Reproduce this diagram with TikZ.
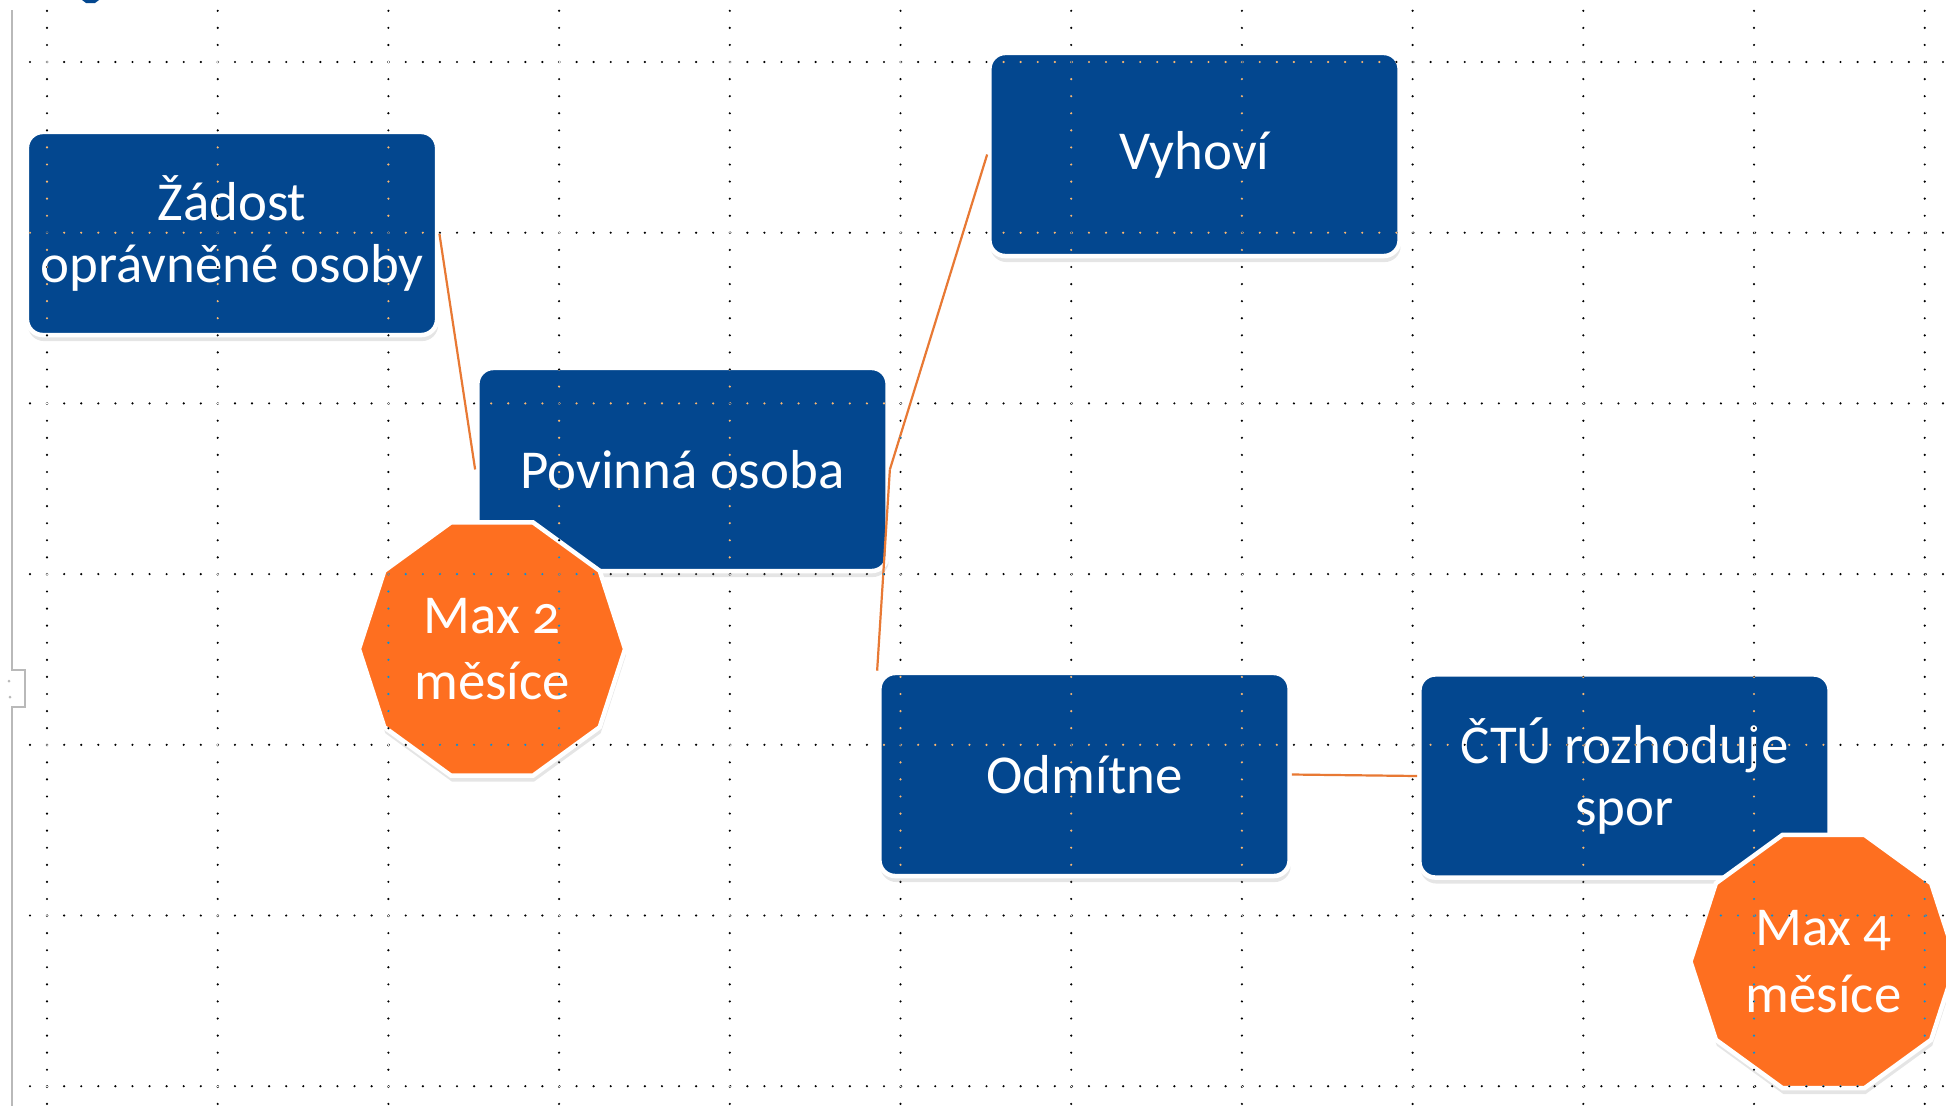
\documentclass[tikz,border=0pt]{standalone}
\usepackage{fontspec}
\setmainfont{Carlito}[Numbers=OldStyle]
\usetikzlibrary{shapes.geometric,shadows}
\definecolor{modra}{RGB}{3,71,143}
\definecolor{oranz}{RGB}{254,111,32}
\definecolor{spojka}{RGB}{232,121,52}
\tikzset{
  blok/.style={rectangle,rounded corners=0.16cm,fill=modra,draw=white,line width=0.045cm,
    minimum width=4.1cm,minimum height=2.03cm,text=white,align=center,
    font=\fontsize{15.6}{17.8}\selectfont,
    drop shadow={opacity=0.2,shadow xshift=0.01cm,shadow yshift=-0.06cm}},
  lhuta/.style={regular polygon,regular polygon sides=10,minimum size=2.66cm,inner sep=0pt,
    fill=oranz,draw=white,line width=0.045cm,text=white,align=center,
    font=\fontsize{15.6}{18.9}\selectfont,
    drop shadow={opacity=0.2,shadow xshift=0.01cm,shadow yshift=-0.06cm}},
  spoj/.style={draw=spojka,line width=0.022cm},
  mrizka/.style={white,blend mode=difference,line width=0.024cm,line cap=round,
    dash pattern=on 0pt off 0.1707cm}
}
\begin{document}
\begin{tikzpicture}[x=0.01cm,y=-0.01cm]
  \useasboundingbox (0,0) rectangle (1946,1106);
  \fill[white] (0,0) rectangle (1946,1106);
  \fill[modra] (82,0) -- (99,0) -- (95,3) -- (86,3) -- cycle;
  \node[blok] (zadost) at (232,233.5) {Žádost\\oprávněné osoby};
  \node[blok] (povinna) at (682.5,469.5) {Povinná osoba};
  \node[blok] (vyhovi) at (1194.5,154.5) {Vyhoví};
  \node[blok] (odmitne) at (1084.5,774.5) {Odmítne};
  \node[blok] (ctu) at (1624.5,776) {ČTÚ rozhoduje\\spor};
  \node[lhuta] (lhuta2) at (492,649) {Max 2\\měsíce};
  \node[lhuta] (lhuta4) at (1823.5,961.5) {Max 4\\měsíce};
  \draw[spoj] (zadost.east) -- (povinna.west);
  \draw[spoj] (povinna.east) -- (vyhovi.west);
  \draw[spoj] (povinna.east) -- (odmitne.north west);
  \draw[spoj] (odmitne.east) -- (ctu.west);
  \foreach \gx in {0,...,11}
    \draw[mrizka] ({47+170.7*\gx},10.8) -- ({47+170.7*\gx},1106);
  \foreach \gy in {0,...,6}
    \draw[mrizka] (30,{62+170.7*\gy}) -- (1946,{62+170.7*\gy});
  \draw[gray!55,line width=0.025cm] (12,10) -- (12,670) -- (25,670) -- (25,707) -- (12,707) -- (12,1106);
  \fill[gray!55] (9,681) circle (1.5) (10,697) circle (1.5);
\end{tikzpicture}
\end{document}
